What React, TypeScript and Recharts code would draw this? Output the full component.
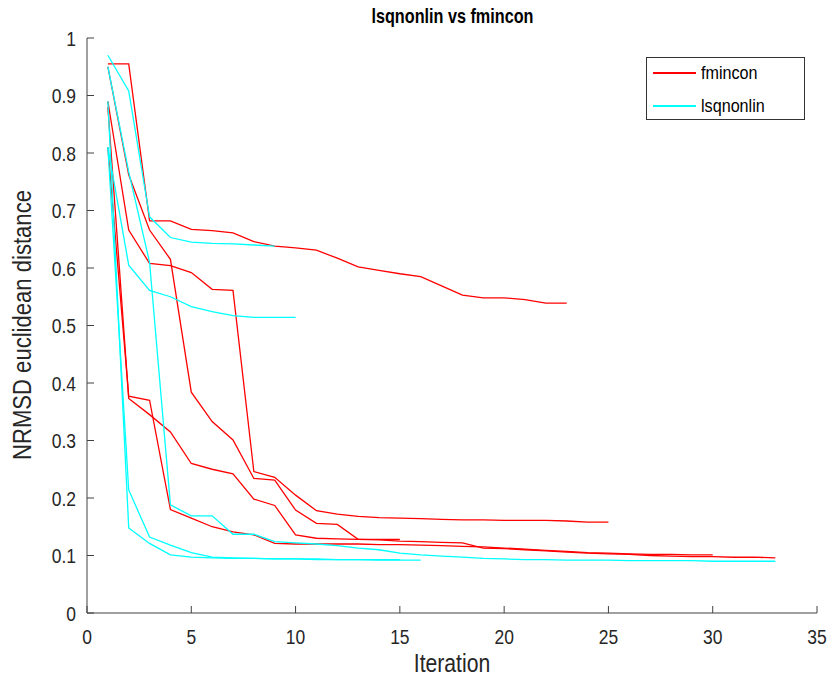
import React from "react";
import { LineChart, Line, XAxis, YAxis, Legend, Label } from "recharts";

// x ticks / y ticks
const xTicks = [0, 5, 10, 15, 20, 25, 30, 35];
const yTicks = [0, 0.1, 0.2, 0.3, 0.4, 0.5, 0.6, 0.7, 0.8, 0.9, 1];

// fmincon runs (value per iteration, starting at iteration 1)
const fmincon1 = [0.955, 0.955, 0.682, 0.682, 0.667, 0.665, 0.661, 0.646, 0.638, 0.635, 0.631, 0.617, 0.602, 0.596, 0.59, 0.585, 0.569, 0.553, 0.548, 0.548, 0.545, 0.539, 0.539];
const fmincon2 = [0.89, 0.666, 0.608, 0.604, 0.592, 0.563, 0.561, 0.246, 0.236, 0.205, 0.178, 0.172, 0.168, 0.166, 0.165, 0.164, 0.163, 0.162, 0.162, 0.161, 0.161, 0.161, 0.16, 0.158, 0.158];
const fmincon3 = [0.95, 0.762, 0.666, 0.615, 0.384, 0.333, 0.301, 0.234, 0.231, 0.179, 0.156, 0.154, 0.128, 0.128, 0.128];
const fmincon4 = [0.81, 0.377, 0.37, 0.18, 0.165, 0.15, 0.141, 0.136, 0.121, 0.12, 0.12, 0.12, 0.12, 0.119, 0.119, 0.118, 0.117, 0.116, 0.115, 0.113, 0.111, 0.109, 0.107, 0.105, 0.104, 0.103, 0.102, 0.102, 0.101, 0.101];
const fmincon5 = [0.88, 0.373, 0.345, 0.315, 0.26, 0.25, 0.242, 0.198, 0.187, 0.136, 0.13, 0.129, 0.128, 0.127, 0.125, 0.124, 0.123, 0.122, 0.113, 0.112, 0.11, 0.108, 0.106, 0.104, 0.103, 0.102, 0.1, 0.099, 0.098, 0.098, 0.097, 0.097, 0.096];

// lsqnonlin runs
const lsq1 = [0.97, 0.908, 0.689, 0.653, 0.645, 0.643, 0.642, 0.64, 0.638];
const lsq2 = [0.81, 0.605, 0.561, 0.55, 0.533, 0.524, 0.517, 0.514, 0.514, 0.514];
const lsq3 = [0.89, 0.148, 0.121, 0.101, 0.097, 0.096, 0.095, 0.095, 0.094, 0.094, 0.094, 0.093, 0.093, 0.093, 0.093];
const lsq4 = [0.81, 0.214, 0.132, 0.118, 0.105, 0.097, 0.096, 0.095, 0.094, 0.094, 0.093, 0.093, 0.093, 0.092, 0.092, 0.092];
const lsq5 = [0.95, 0.767, 0.61, 0.188, 0.169, 0.169, 0.137, 0.137, 0.124, 0.122, 0.12, 0.117, 0.113, 0.11, 0.104, 0.101, 0.099, 0.097, 0.095, 0.094, 0.093, 0.093, 0.092, 0.092, 0.092, 0.091, 0.091, 0.091, 0.091, 0.09, 0.09, 0.09, 0.09];

const fminconRuns = [fmincon1, fmincon2, fmincon3, fmincon4, fmincon5];
const lsqRuns = [lsq1, lsq2, lsq3, lsq4, lsq5];

const toPoints = (vals: number[]) => vals.map((v, i) => ({ x: i + 1, y: v }));

const RED = "#ff0000";
const CYAN = "#00ffff";
const AXIS = "#404040";
const TEXT = "#262626";
const FONT = "'Liberation Sans', Arial, sans-serif";

const XTick = (props: any) => {
  const { x, y, payload } = props;
  return (
    <g>
      <line x1={x} x2={x} y1={y} y2={y - 7} stroke={AXIS} strokeWidth={1} />
      <text
        transform={`translate(${x},${y + 31}) scale(0.92,1.1)`}
        textAnchor="middle"
        fontSize={19}
        fill={TEXT}
        fontFamily={FONT}
      >
        {payload.value}
      </text>
    </g>
  );
};

const YTick = (props: any) => {
  const { x, y, payload } = props;
  const v = Math.round(payload.value * 10) / 10;
  return (
    <g>
      <line x1={x} x2={x + 7} y1={y} y2={y} stroke={AXIS} strokeWidth={1} />
      <text
        transform={`translate(${x - 11},${y + 7.5}) scale(0.92,1.1)`}
        textAnchor="end"
        fontSize={19}
        fill={TEXT}
        fontFamily={FONT}
      >
        {String(v)}
      </text>
    </g>
  );
};

const XLabel = () => (
  <text
    transform="translate(452,672) scale(0.92,1.1)"
    textAnchor="middle"
    fontSize={23}
    fill={TEXT}
    fontFamily={FONT}
  >
    Iteration
  </text>
);

const YLabel = () => (
  <text
    transform="translate(31,325) rotate(-90) scale(0.96,1.1)"
    textAnchor="middle"
    fontSize={23}
    fill={TEXT}
    fontFamily={FONT}
  >
    NRMSD euclidean distance
  </text>
);

const LegendBox = () => (
  <div
    style={{
      width: 159,
      height: 63,
      border: "1px solid #333",
      background: "#fff",
      fontFamily: FONT,
      fontSize: 17,
      color: "#000",
      boxSizing: "border-box",
      position: "relative",
    }}
  >
    {[
      { name: "fmincon", color: RED, top: 15 },
      { name: "lsqnonlin", color: CYAN, top: 48 },
    ].map((e) => (
      <div key={e.name} style={{ position: "absolute", left: 0, top: e.top - 11, height: 22, width: 159 }}>
        <div style={{ position: "absolute", left: 6, top: 10, width: 43, height: 1.5, background: e.color }} />
        <div
          style={{
            position: "absolute",
            left: 54,
            top: 0,
            lineHeight: "22px",
            transform: "scale(0.95,1.1)",
            transformOrigin: "left center",
          }}
        >
          {e.name}
        </div>
      </div>
    ))}
  </div>
);

export default function App() {
  return (
    <div style={{ position: "absolute", left: 0, top: 0, width: 831, height: 683, background: "#fff" }}>
      <div
        style={{
          position: "absolute",
          left: 0,
          width: 905,
          top: 6,
          textAlign: "center",
          fontFamily: FONT,
          fontWeight: "bold",
          fontSize: 18,
          color: "#000",
          transform: "scale(0.9,1.12)",
          transformOrigin: "452px 10px",
        }}
      >
        lsqnonlin vs fmincon
      </div>
      <LineChart width={831} height={683} margin={{ top: 38, right: 14, bottom: 0, left: 0 }}>
        <XAxis
          type="number"
          dataKey="x"
          domain={[0, 35]}
          ticks={xTicks}
          allowDataOverflow
          height={70}
          tickSize={0}
          tickMargin={0}
          tickLine={false}
          axisLine={{ stroke: AXIS, strokeWidth: 1 }}
          tick={<XTick />}
          interval={0}
        >
          <Label content={<XLabel />} />
        </XAxis>
        <YAxis
          type="number"
          dataKey="y"
          domain={[0, 1]}
          ticks={yTicks}
          allowDataOverflow
          width={87}
          tickSize={0}
          tickMargin={0}
          tickLine={false}
          axisLine={{ stroke: AXIS, strokeWidth: 1 }}
          tick={<YTick />}
          interval={0}
        >
          <Label content={<YLabel />} />
        </YAxis>
        {fminconRuns.map((r, i) => (
          <Line
            key={"f" + i}
            data={toPoints(r)}
            dataKey="y"
            type="linear"
            stroke={RED}
            strokeWidth={1.3}
            dot={false}
            activeDot={false}
            isAnimationActive={false}
          />
        ))}
        {lsqRuns.map((r, i) => (
          <Line
            key={"l" + i}
            data={toPoints(r)}
            dataKey="y"
            type="linear"
            stroke={CYAN}
            strokeWidth={1.3}
            dot={false}
            activeDot={false}
            isAnimationActive={false}
          />
        ))}
        <Legend
          layout="vertical"
          align="center"
          verticalAlign="middle"
          content={() => <LegendBox />}
          wrapperStyle={{ position: "absolute", left: 646, top: 57, width: 159, height: 63 }}
        />
      </LineChart>
    </div>
  );
}
